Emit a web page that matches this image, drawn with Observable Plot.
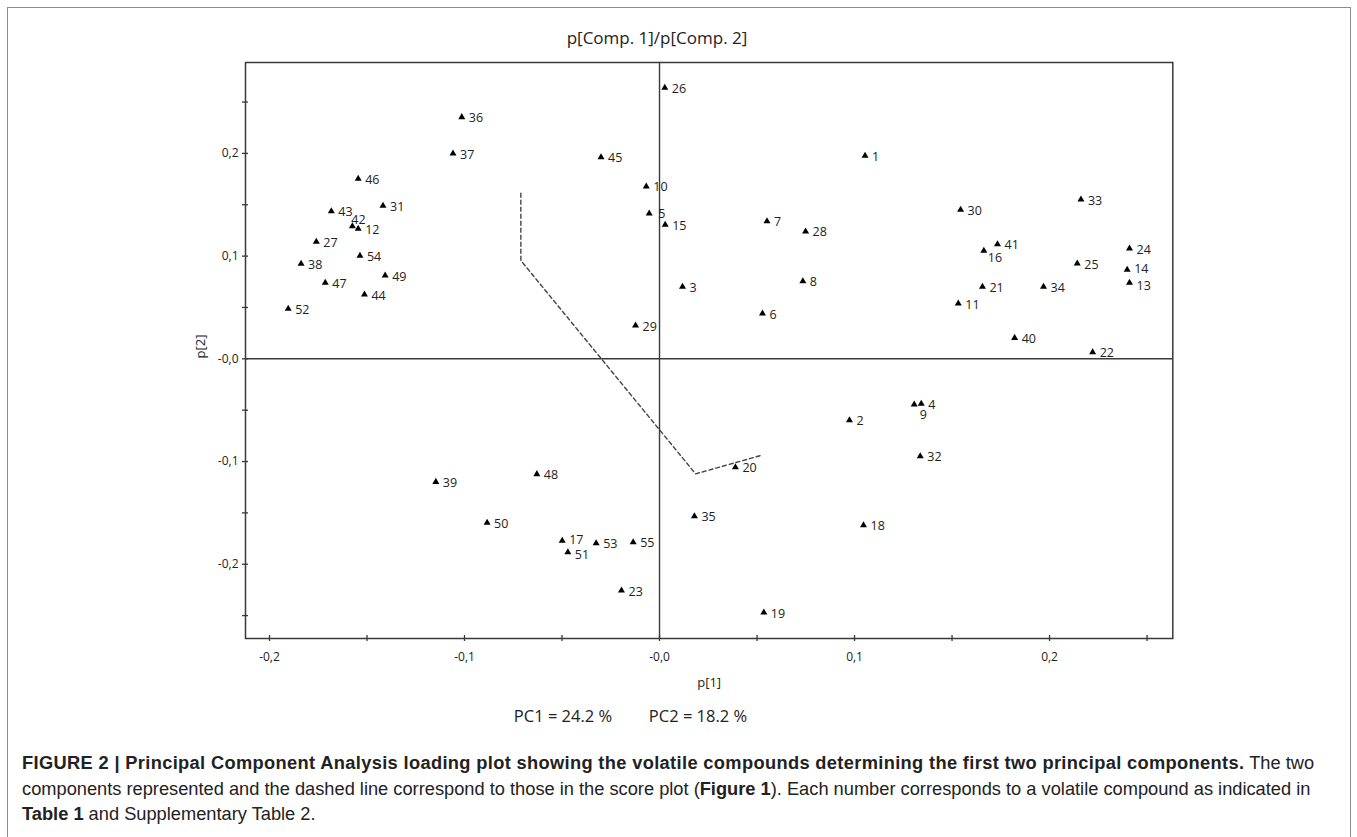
<!DOCTYPE html>
<html>
<head>
<meta charset="utf-8">
<script src="https://cdn.jsdelivr.net/npm/d3@7"></script>
<script src="https://cdn.jsdelivr.net/npm/@observablehq/plot@0.6"></script>
<style>
  html, body { margin: 0; padding: 0; background: #fff; }
  body { width: 1357px; height: 837px; overflow: hidden; position: relative; font-family: "Open Sans", sans-serif; color: #222; }
  #border { position: absolute; left: 7px; top: 7px; width: 1342px; height: 850px; border: 1.5px solid #8c8c8c; border-bottom: none; }
  #title { position: absolute; top: 26px; left: 0; width: 1314px; text-align: center; font-size: 17px; color: #222; }
  #chart { position: absolute; left: 0; top: 0; }
  .pc { position: absolute; top: 704px; font-size: 16.5px; color: #222; white-space: nowrap; transform: translateX(-50%); }
  #caption { position: absolute; left: 22px; top: 750px; font-family: "Liberation Sans", Arial, sans-serif; font-size: 18.25px; line-height: 25.5px; color: #222; white-space: nowrap; }
  #caption b.lead { letter-spacing: 0.35px; }
</style>
</head>
<body>
<div id="border"></div>
<div id="chart"></div>
<div id="title">p[Comp. 1]/p[Comp. 2]</div>
<div class="pc" style="left:563px">PC1 = 24.2 %</div>
<div class="pc" style="left:698px">PC2 = 18.2 %</div>
<div id="caption"><b class="lead">FIGURE 2 | Principal Component Analysis loading plot showing the volatile compounds determining the first two principal components.</b> The two<br>components represented and the dashed line correspond to those in the score plot (<b>Figure 1</b>). Each number corresponds to a volatile compound as indicated in<br><b>Table 1</b> and Supplementary Table 2.</div>
<script>
// Compound numbers and loadings p[1], p[2]
const ids = ["1","2","3","4","5","6","7","8","9","10","11","12","13","14","15","16","17","18","19","20","21","22","23","24","25","26","27","28","29","30","31","32","33","34","35","36","37","38","39","40","41","42","43","44","45","46","47","48","49","50","51","52","53","54","55"];
const p1 = [0.1054, 0.0974, 0.0118, 0.1342, -0.0053, 0.0528, 0.0551, 0.0735, 0.1306, -0.0068,
            0.1532, -0.1545, 0.2410, 0.2398, 0.0029, 0.1663, -0.0499, 0.1046, 0.0535, 0.0389,
            0.1656, 0.2221, -0.0195, 0.2410, 0.2142, 0.0027, -0.1760, 0.0749, -0.0123, 0.1544,
            -0.1418, 0.1337, 0.2161, 0.1969, 0.0179, -0.1014, -0.1059, -0.1838, -0.1147, 0.1821,
            0.1733, -0.1575, -0.1683, -0.1513, -0.0300, -0.1545, -0.1714, -0.0629, -0.1407, -0.0884,
            -0.0470, -0.1904, -0.0325, -0.1536, -0.0135];
const p2 = [0.1977, -0.0598, 0.0701, -0.0438, 0.1415, 0.0441, 0.1340, 0.0756, -0.0445, 0.1678,
            0.0538, 0.1266, 0.0740, 0.0867, 0.1305, 0.1052, -0.1772, -0.1620, -0.2470, -0.1055,
            0.0701, 0.0064, -0.2256, 0.1074, 0.0928, 0.2639, 0.1139, 0.1240, 0.0324, 0.1451,
            0.1490, -0.0948, 0.1551, 0.0701, -0.1533, 0.2353, 0.1999, 0.0925, -0.1198, 0.0204,
            0.1116, 0.1291, 0.1437, 0.0626, 0.1963, 0.1753, 0.0740, -0.1123, 0.0811, -0.1597,
            -0.1883, 0.0487, -0.1795, 0.1003, -0.1786];
// Dashed line (from the score plot)
const dashP1 = [-0.0711, -0.0711, 0.0185, 0.0518];
const dashP2 = [0.1612, 0.0957, -0.1120, -0.0942];
// Axis ticks
const majorTicks = [-0.2, -0.1, 0, 0.1, 0.2];
const tickLabels = ["-0,2", "-0,1", "-0,0", "0,1", "0,2"];
const xTicksAll = [-0.2, -0.15, -0.1, -0.05, 0, 0.05, 0.1, 0.15, 0.2, 0.25];
const yTicksAll = [-0.25, -0.2, -0.15, -0.1, -0.05, 0, 0.05, 0.1, 0.15, 0.2, 0.25];
// Labels drawn with a special offset (to avoid overlaps, as in the original)
const labelLower = ["16"];
const labelBelow = ["9"];
const labelWide = ["5"];
const labelUp = ["14", "17"];
const labelDown = ["13", "51"];

const pts = ids.map((id, i) => ({id, p1: p1[i], p2: p2[i]}));
const dash = dashP1.map((v, i) => ({p1: v, p2: dashP2[i]}));
const special = new Set(["42", ...labelLower, ...labelBelow, ...labelWide, ...labelUp, ...labelDown]);
const fmt = d => tickLabels[majorTicks.findIndex(t => Math.abs(t - d) < 1e-9)];
const ink = "#222";
const lineInk = "#3a3a3a";
const fs = 12.5;

const chart = Plot.plot({
  width: 1357,
  height: 700,
  marginLeft: 245,
  marginRight: 184.7,
  marginTop: 62,
  marginBottom: 62,
  style: {fontFamily: "'Open Sans', sans-serif", fontSize: "12px", color: ink, background: "transparent"},
  x: {domain: [-0.2123, 0.2632]},
  y: {domain: [-0.2723, 0.2885]},
  marks: [
    Plot.ruleX([0], {stroke: lineInk, strokeWidth: 1.4}),
    Plot.ruleY([0], {stroke: lineInk, strokeWidth: 1.4}),
    Plot.frame({stroke: lineInk, strokeWidth: 1.5}),
    Plot.axisX(xTicksAll, {anchor: "bottom", tickSize: 6, dy: -3, tickFormat: () => "", label: null, stroke: lineInk, strokeWidth: 1.3}),
    Plot.axisY(yTicksAll, {anchor: "left", tickSize: 6, dx: 3, tickFormat: () => "", label: null, stroke: lineInk, strokeWidth: 1.3}),
    Plot.axisX(majorTicks, {anchor: "bottom", tickSize: 0, tickPadding: 14, tickFormat: fmt, label: null, fontSize: 12, fill: ink}),
    Plot.axisY(majorTicks, {anchor: "left", tickSize: 0, tickPadding: 7, tickFormat: fmt, label: null, fontSize: 12, fill: ink}),
    Plot.text(["p[1]"], {frameAnchor: "bottom", dy: 48, text: d => d, fontSize: 13, fill: ink}),
    Plot.text(["p[2]"], {frameAnchor: "left", dx: -45, dy: 8, rotate: -90, text: d => d, fontSize: 13, fill: ink}),
    Plot.line(dash, {x: "p1", y: "p2", stroke: "#444", strokeWidth: 1.4, strokeDasharray: "4,3"}),
    Plot.dot(pts, {x: "p1", y: "p2", symbol: "triangle", r: 2.6, fill: "#000", stroke: "none"}),
    Plot.text(pts.filter(d => !special.has(d.id)), {x: "p1", y: "p2", text: "id", dx: 7, dy: 1, textAnchor: "start", fontSize: fs, fill: ink}),
    Plot.text(pts.filter(d => d.id === "42"), {x: "p1", y: "p2", text: "id", dx: -1, dy: -6, textAnchor: "start", fontSize: fs, fill: ink}),
    Plot.text(pts.filter(d => labelUp.includes(d.id)), {x: "p1", y: "p2", text: "id", dx: 7, dy: -1, textAnchor: "start", fontSize: fs, fill: ink}),
    Plot.text(pts.filter(d => labelDown.includes(d.id)), {x: "p1", y: "p2", text: "id", dx: 7, dy: 3, textAnchor: "start", fontSize: fs, fill: ink}),
    Plot.text(pts.filter(d => labelLower.includes(d.id)), {x: "p1", y: "p2", text: "id", dx: 4, dy: 7, textAnchor: "start", fontSize: fs, fill: ink}),
    Plot.text(pts.filter(d => labelBelow.includes(d.id)), {x: "p1", y: "p2", text: "id", dx: 9, dy: 10, textAnchor: "middle", fontSize: fs, fill: ink}),
    Plot.text(pts.filter(d => labelWide.includes(d.id)), {x: "p1", y: "p2", text: "id", dx: 9, dy: 1, textAnchor: "start", fontSize: fs, fill: ink})
  ]
});
document.getElementById("chart").appendChild(chart);
</script>
</body>
</html>
